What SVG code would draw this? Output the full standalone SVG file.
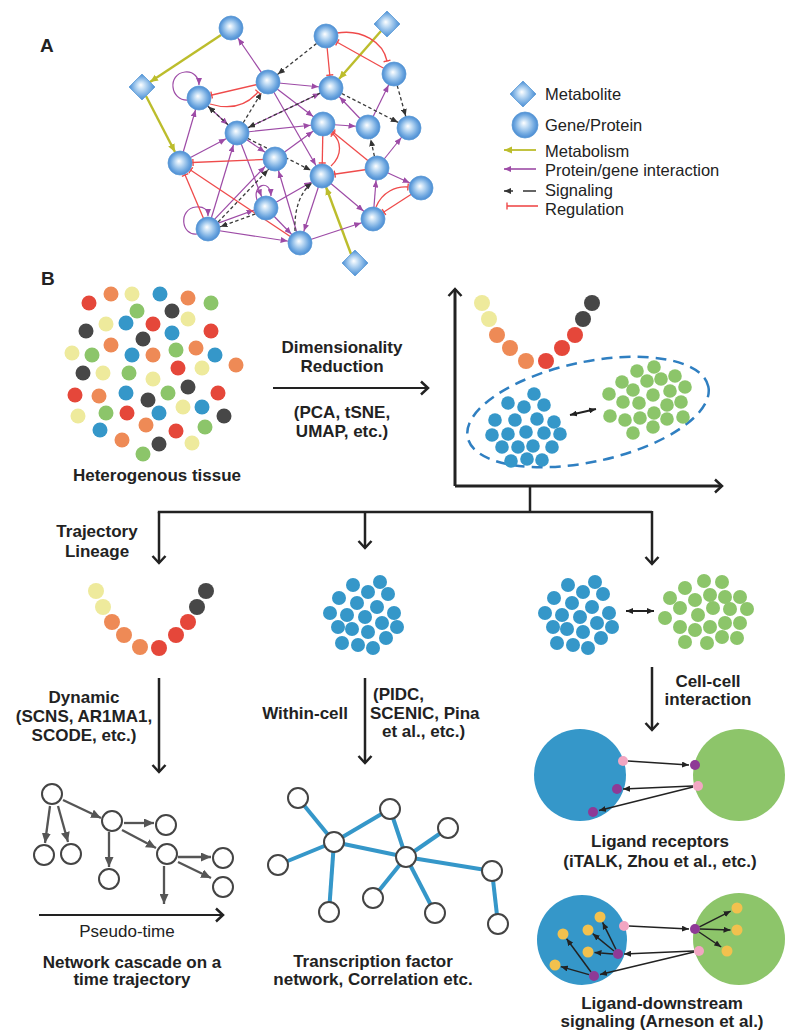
<svg xmlns="http://www.w3.org/2000/svg" width="800" height="1035" viewBox="0 0 800 1035">
<defs>
<style>
text{font-family:"Liberation Sans",Arial,sans-serif;fill:#222}
.bt{font-weight:bold;font-size:17px;text-anchor:middle}
.bs{font-weight:bold;font-size:17px}
.lg{font-size:16.5px}
.rt{font-size:17px;text-anchor:middle}
.pl{font-weight:bold;font-size:19px}
.ep{stroke:#9d4ba6;stroke-width:1.2;fill:none}
.er{stroke:#ef4b4b;stroke-width:1.3;fill:none}
.ek{stroke:#3a3a3a;stroke-width:1.3;stroke-dasharray:3.5 2.5;fill:none}
.ey{stroke:#bcbd2c;stroke-width:2.4;fill:none}
.nd{fill:url(#gb);stroke:#5c9ad6;stroke-width:0.8}
.r{fill:#e5473a}.o{fill:#ee8a56}.y{fill:#eeea9c}.b{fill:#3597c9}.k{fill:#474747}.g{fill:#8cc56a}
.ax{stroke:#222;stroke-width:3;fill:none}
.ar{stroke:#222;stroke-width:2.5;fill:none}
.bl{stroke:#555;stroke-width:2.3;fill:none}
.hc{fill:#fff;stroke:#444;stroke-width:2}
.te{stroke:#3597c9;stroke-width:4}
.ca{stroke:#222;stroke-width:1.5;fill:none}
</style>
<radialGradient id="gb" cx="0.5" cy="0.5" r="0.5" fx="0.45" fy="0.42">
<stop offset="0" stop-color="#ffffff"/>
<stop offset="0.3" stop-color="#c4def5"/>
<stop offset="0.75" stop-color="#6fa8e0"/>
<stop offset="1" stop-color="#4b8cd3"/>
</radialGradient>
<marker id="mP" viewBox="-7 -3 7 6" refX="12.5" refY="0" markerWidth="7" markerHeight="6" orient="auto" markerUnits="userSpaceOnUse"><path d="M-7,-3L0,0L-7,3z" fill="#9d4ba6"/></marker>
<marker id="mPe" viewBox="-7 -3 7 6" refX="0" refY="0" markerWidth="7" markerHeight="6" orient="auto" markerUnits="userSpaceOnUse"><path d="M-7,-3L0,0L-7,3z" fill="#9d4ba6"/></marker>
<marker id="mK" viewBox="-7 -3 7 6" refX="12.5" refY="0" markerWidth="7" markerHeight="6" orient="auto" markerUnits="userSpaceOnUse"><path d="M-7,-3L0,0L-7,3z" fill="#333"/></marker>
<marker id="mKe" viewBox="-7 -3 7 6" refX="0" refY="0" markerWidth="7" markerHeight="6" orient="auto" markerUnits="userSpaceOnUse"><path d="M-7,-3L0,0L-7,3z" fill="#333"/></marker>
<marker id="mR" viewBox="-1 -4 2 8" refX="13" refY="0" markerWidth="2" markerHeight="8" orient="auto" markerUnits="userSpaceOnUse"><path d="M0,-3.5V3.5" stroke="#ef4b4b" stroke-width="1.4"/></marker>
<marker id="mRe" viewBox="-1 -4 2 8" refX="0" refY="0" markerWidth="2" markerHeight="8" orient="auto" markerUnits="userSpaceOnUse"><path d="M0,-3.5V3.5" stroke="#ef4b4b" stroke-width="1.4"/></marker>
<marker id="mYe" viewBox="-8 -4 8 8" refX="0" refY="0" markerWidth="8" markerHeight="8" orient="auto" markerUnits="userSpaceOnUse"><path d="M-8,-3.5L0,0L-8,3.5z" fill="#bcbd2c"/></marker>
<marker id="cv" viewBox="-9 -8 11 16" refX="0" refY="0" markerWidth="11" markerHeight="16" orient="auto" markerUnits="userSpaceOnUse"><path d="M-7,-6.5L0,0L-7,6.5" fill="none" stroke="#222" stroke-width="2.5"/></marker>
<marker id="mT" viewBox="-10 -4.5 10 9" refX="0" refY="0" markerWidth="10" markerHeight="9" orient="auto" markerUnits="userSpaceOnUse"><path d="M-10,-4.5L0,0L-10,4.5z" fill="#555"/></marker>
<marker id="mA" viewBox="-7 -3 7 6" refX="0" refY="0" markerWidth="7" markerHeight="6" orient="auto-start-reverse" markerUnits="userSpaceOnUse"><path d="M-7,-3L0,0L-7,3z" fill="#222"/></marker>
<g id="blueCluster">
<circle cx="568" cy="585" r="7"/><circle cx="595" cy="582" r="7"/><circle cx="583" cy="592" r="7"/><circle cx="603" cy="594" r="7"/><circle cx="554" cy="598" r="7"/><circle cx="572" cy="603" r="7"/><circle cx="592" cy="607" r="7"/><circle cx="545" cy="613" r="7"/><circle cx="562" cy="615" r="7"/><circle cx="580" cy="617" r="7"/><circle cx="609" cy="613" r="7"/><circle cx="553" cy="627" r="7"/><circle cx="567" cy="629" r="7"/><circle cx="583" cy="632" r="7"/><circle cx="597" cy="623" r="7"/><circle cx="612" cy="627" r="7"/><circle cx="557" cy="643" r="7"/><circle cx="573" cy="645" r="7"/><circle cx="588" cy="648" r="7"/><circle cx="601" cy="638" r="7"/>
</g>
</defs>
<rect width="800" height="1035" fill="#fff"/>

<text class="pl" x="40" y="52">A</text>
<text class="pl" x="41" y="285">B</text>

<!-- Panel A connectors -->
<g id="connectors-A">
<g class="ey" marker-end="url(#mYe)">
<line x1="221" y1="35" x2="150" y2="82"/>
<line x1="146" y1="96" x2="175" y2="152"/>
<line x1="381" y1="31" x2="339" y2="79"/>
<line x1="351" y1="254" x2="326" y2="187"/>
</g>
<g class="ep" marker-end="url(#mP)">
<line x1="268" y1="82" x2="231" y2="28"/>
<line x1="268" y1="82" x2="331" y2="88"/>
<line x1="268" y1="82" x2="323" y2="124"/>
<line x1="268" y1="82" x2="322" y2="176"/>
<line x1="199" y1="98" x2="237" y2="133"/>
<line x1="180" y1="163" x2="199" y2="98"/>
<line x1="180" y1="163" x2="237" y2="133"/>
<line x1="237" y1="133" x2="331" y2="88"/>
<line x1="237" y1="133" x2="323" y2="124"/>
<line x1="237" y1="133" x2="275" y2="159"/>
<line x1="237" y1="133" x2="266" y2="208"/>
<line x1="208" y1="229" x2="237" y2="133"/>
<line x1="206.6" y1="227.6" x2="273.6" y2="157.6"/>
<line x1="207.3" y1="227.1" x2="265.3" y2="206.1"/>
<line x1="208" y1="229" x2="300" y2="243"/>
<line x1="266" y1="208" x2="300" y2="243"/>
<line x1="266" y1="208" x2="322" y2="176"/>
<line x1="300" y1="243" x2="275" y2="159"/>
<line x1="322" y1="176" x2="300" y2="243"/>
<line x1="275" y1="159" x2="323" y2="124"/>
<line x1="323" y1="124" x2="368" y2="127"/>
<line x1="368" y1="127" x2="331" y2="88"/>
<line x1="368" y1="127" x2="394" y2="74"/>
<line x1="377" y1="168" x2="409" y2="128"/>
<line x1="377" y1="168" x2="421" y2="188"/>
<line x1="373" y1="219" x2="377" y2="168"/>
<line x1="322" y1="176" x2="373" y2="219"/>
<line x1="300" y1="243" x2="373" y2="219"/>
</g>
<g class="ep" marker-end="url(#mPe)">
<path d="M188,100 C170,101 167,74 185,72 C194,71 199,78 199,85"/>
<path d="M197,234 C181,236 178,209 196,207 C204,206 208,210 208,216"/>
<path d="M257,200 C252,185 270,178 271,196"/>
</g>
<g class="ek" marker-end="url(#mK)">
<line x1="326" y1="36" x2="268" y2="82"/>
<line x1="331" y1="88" x2="237" y2="133"/>
<line x1="237" y1="133" x2="199" y2="98"/>
<line x1="237" y1="133" x2="268" y2="82"/>
<line x1="237" y1="133" x2="322" y2="176"/>
<line x1="209.8" y1="230.7" x2="276.8" y2="160.7"/>
<line x1="266.7" y1="209.9" x2="208.7" y2="230.9"/>
<line x1="394" y1="74" x2="409" y2="128"/>
<line x1="331" y1="88" x2="409" y2="128"/>
<line x1="377" y1="168" x2="368" y2="127"/>
</g>
<g class="ek" marker-end="url(#mKe)">
<path d="M295,231 C294,210 300,192 312,183"/>
</g>
<g class="er" marker-end="url(#mR)">
<line x1="268" y1="82" x2="199" y2="98"/>
<line x1="275" y1="159" x2="180" y2="163"/>
<line x1="300" y1="243" x2="180" y2="163"/>
<line x1="208" y1="229" x2="180" y2="163"/>
<line x1="326" y1="36" x2="331" y2="88"/>
<line x1="394" y1="74" x2="326" y2="36"/>
<line x1="323" y1="124" x2="322" y2="176"/>
<line x1="377" y1="168" x2="323" y2="124"/>
<line x1="377" y1="168" x2="322" y2="176"/>
<line x1="421" y1="188" x2="373" y2="219"/>
</g>
<g class="er" marker-end="url(#mRe)">
<path d="M210,104 Q240,113 258,92"/>
<path d="M337,33 C362,29 383,42 387,61"/>
<path d="M331,166 C343,155 341,141 333,134"/>
<path d="M376,207 C382,192 396,186 408,187"/>
</g>
</g>

<!-- Panel A nodes -->
<g id="nodes-A">
<g id="D1"><polygon class="nd" points="387,11 400,24 387,37 374,24"/></g>
<g id="D2"><polygon class="nd" points="142,74 155,87 142,100 129,87"/></g>
<g id="D3"><polygon class="nd" points="355,250 368,263 355,276 342,263"/></g>
<g id="N1"><circle class="nd" cx="231" cy="28" r="12"/></g>
<g id="N2"><circle class="nd" cx="326" cy="36" r="12"/></g>
<g id="N3"><circle class="nd" cx="394" cy="74" r="12"/></g>
<g id="N4"><circle class="nd" cx="199" cy="98" r="12"/></g>
<g id="N5"><circle class="nd" cx="268" cy="82" r="12"/></g>
<g id="N6"><circle class="nd" cx="331" cy="88" r="12"/></g>
<g id="N7"><circle class="nd" cx="237" cy="133" r="12"/></g>
<g id="N8"><circle class="nd" cx="323" cy="124" r="12"/></g>
<g id="N9"><circle class="nd" cx="368" cy="127" r="12"/></g>
<g id="N10"><circle class="nd" cx="409" cy="128" r="12"/></g>
<g id="N11"><circle class="nd" cx="180" cy="163" r="12"/></g>
<g id="N12"><circle class="nd" cx="275" cy="159" r="12"/></g>
<g id="N13"><circle class="nd" cx="322" cy="176" r="12"/></g>
<g id="N14"><circle class="nd" cx="377" cy="168" r="12"/></g>
<g id="N15"><circle class="nd" cx="421" cy="188" r="12"/></g>
<g id="N16"><circle class="nd" cx="266" cy="208" r="12"/></g>
<g id="N17"><circle class="nd" cx="208" cy="229" r="12"/></g>
<g id="N18"><circle class="nd" cx="300" cy="243" r="12"/></g>
<g id="N19"><circle class="nd" cx="373" cy="219" r="12"/></g>
</g>

<!-- Legend -->
<g id="legend">
<polygon class="nd" points="523,81 536,94 523,107 510,94"/>
<circle class="nd" cx="525" cy="125" r="13"/>
<line class="ey" x1="536" y1="150" x2="504" y2="150" marker-end="url(#mYe)" style="stroke-width:1.8"/>
<line class="ep" x1="536" y1="169" x2="504" y2="169" marker-end="url(#mPe)" style="stroke-width:1.6"/>
<path d="M536,191 H523 M513,191 H504" stroke="#333" stroke-width="1.6" fill="none" marker-end="url(#mKe)"/>
<line class="er" x1="538" y1="206" x2="507" y2="206" marker-end="url(#mRe)" style="stroke-width:1.6"/>
<text class="lg" x="545" y="100">Metabolite</text>
<text class="lg" x="545" y="131">Gene/Protein</text>
<text class="lg" x="545" y="157">Metabolism</text>
<text class="lg" x="545" y="176">Protein/gene interaction</text>
<text class="lg" x="545" y="196">Signaling</text>
<text class="lg" x="545" y="215">Regulation</text>
</g>

<!-- Panel B: heterogenous tissue -->
<g id="tissue">
<circle class="r" cx="89" cy="303" r="7.5"/><circle class="o" cx="111" cy="294" r="7.5"/><circle class="y" cx="132" cy="294" r="7.5"/><circle class="b" cx="160" cy="294" r="7.5"/><circle class="o" cx="188" cy="298" r="7.5"/><circle class="g" cx="211" cy="303" r="7.5"/>
<circle class="g" cx="137" cy="311" r="7.5"/><circle class="k" cx="172" cy="311" r="7.5"/><circle class="y" cx="188" cy="319" r="7.5"/><circle class="k" cx="86" cy="331" r="7.5"/><circle class="y" cx="106" cy="324" r="7.5"/><circle class="b" cx="126" cy="323" r="7.5"/><circle class="r" cx="153" cy="324" r="7.5"/><circle class="b" cx="172" cy="333" r="7.5"/><circle class="r" cx="211" cy="331" r="7.5"/>
<circle class="k" cx="143" cy="339" r="7.5"/><circle class="o" cx="111" cy="345" r="7.5"/><circle class="y" cx="72" cy="353" r="7.5"/><circle class="g" cx="92" cy="355" r="7.5"/><circle class="b" cx="132" cy="355" r="7.5"/><circle class="o" cx="153" cy="355" r="7.5"/><circle class="g" cx="176" cy="350" r="7.5"/><circle class="o" cx="196" cy="348" r="7.5"/><circle class="b" cx="215" cy="355" r="7.5"/><circle class="o" cx="236" cy="365" r="7.5"/>
<circle class="k" cx="83" cy="373" r="7.5"/><circle class="y" cx="103" cy="373" r="7.5"/><circle class="g" cx="129" cy="373" r="7.5"/><circle class="r" cx="178" cy="368" r="7.5"/><circle class="y" cx="202" cy="368" r="7.5"/><circle class="y" cx="153" cy="379" r="7.5"/>
<circle class="r" cx="75" cy="395" r="7.5"/><circle class="o" cx="99" cy="396" r="7.5"/><circle class="b" cx="126" cy="393" r="7.5"/><circle class="k" cx="148" cy="400" r="7.5"/><circle class="g" cx="168" cy="393" r="7.5"/><circle class="k" cx="188" cy="387" r="7.5"/><circle class="r" cx="218" cy="393" r="7.5"/>
<circle class="y" cx="78" cy="416" r="7.5"/><circle class="g" cx="106" cy="413" r="7.5"/><circle class="r" cx="127" cy="413" r="7.5"/><circle class="b" cx="159" cy="413" r="7.5"/><circle class="y" cx="183" cy="407" r="7.5"/><circle class="b" cx="202" cy="407" r="7.5"/><circle class="k" cx="224" cy="416" r="7.5"/>
<circle class="b" cx="100" cy="430" r="7.5"/><circle class="o" cx="146" cy="425" r="7.5"/><circle class="r" cx="176" cy="431" r="7.5"/><circle class="g" cx="205" cy="427" r="7.5"/><circle class="o" cx="122" cy="440" r="7.5"/><circle class="k" cx="159" cy="444" r="7.5"/><circle class="y" cx="192" cy="443" r="7.5"/><circle class="g" cx="143" cy="454" r="7.5"/>
<text class="bt" x="157" y="481">Heterogenous tissue</text>
</g>

<g id="dimred">
<line class="ar" x1="273" y1="388" x2="428" y2="388" style="stroke-width:2.2" marker-end="url(#cv)"/>
<text class="bt" x="342" y="353">Dimensionality</text>
<text class="bt" x="342" y="372">Reduction</text>
<text class="bt" x="342" y="418">(PCA, tSNE,</text>
<text class="bt" x="342" y="437">UMAP, etc.)</text>
</g>

<!-- Plot -->
<g id="plot">
<line class="ax" x1="455" y1="486" x2="455" y2="289" marker-end="url(#cv)"/>
<line class="ax" x1="455" y1="486" x2="722" y2="486" marker-end="url(#cv)"/>
<circle class="y" cx="482" cy="303" r="8"/><circle class="y" cx="489" cy="319" r="8"/><circle class="o" cx="497" cy="335" r="8"/><circle class="o" cx="510" cy="348" r="8"/><circle class="o" cx="526" cy="361" r="8"/><circle class="r" cx="546" cy="361" r="8"/><circle class="r" cx="562" cy="348" r="8"/><circle class="r" cx="575" cy="335" r="8"/><circle class="k" cx="583" cy="319" r="8"/><circle class="k" cx="592" cy="303" r="8"/>
<ellipse cx="588" cy="412" rx="123" ry="50" transform="rotate(-12 588 412)" fill="none" stroke="#2f7fc1" stroke-width="2.5" stroke-dasharray="11 7"/>
<g class="b">
<circle cx="534" cy="394" r="6.8"/><circle cx="508" cy="403" r="6.8"/><circle cx="524" cy="407" r="6.8"/><circle cx="544" cy="405" r="6.8"/><circle cx="495" cy="420" r="6.8"/><circle cx="515" cy="420" r="6.8"/><circle cx="537" cy="419" r="6.8"/><circle cx="554" cy="422" r="6.8"/><circle cx="492" cy="435" r="6.8"/><circle cx="508" cy="434" r="6.8"/><circle cx="526" cy="432" r="6.8"/><circle cx="544" cy="433" r="6.8"/><circle cx="560" cy="434" r="6.8"/><circle cx="502" cy="447" r="6.8"/><circle cx="518" cy="447" r="6.8"/><circle cx="533" cy="446" r="6.8"/><circle cx="552" cy="447" r="6.8"/><circle cx="511" cy="461" r="6.8"/><circle cx="527" cy="459" r="6.8"/><circle cx="542" cy="460" r="6.8"/>
</g>
<g class="g">
<circle cx="637" cy="371" r="6.8"/><circle cx="654" cy="367" r="6.8"/><circle cx="675" cy="376" r="6.8"/><circle cx="622" cy="382" r="6.8"/><circle cx="647" cy="381" r="6.8"/><circle cx="661" cy="379" r="6.8"/><circle cx="685" cy="387" r="6.8"/><circle cx="609" cy="394" r="6.8"/><circle cx="633" cy="390" r="6.8"/><circle cx="653" cy="395" r="6.8"/><circle cx="670" cy="391" r="6.8"/><circle cx="623" cy="402" r="6.8"/><circle cx="639" cy="403" r="6.8"/><circle cx="667" cy="405" r="6.8"/><circle cx="681" cy="402" r="6.8"/><circle cx="610" cy="416" r="6.8"/><circle cx="625" cy="420" r="6.8"/><circle cx="640" cy="418" r="6.8"/><circle cx="654" cy="413" r="6.8"/><circle cx="667" cy="419" r="6.8"/><circle cx="683" cy="417" r="6.8"/><circle cx="633" cy="433" r="6.8"/><circle cx="653" cy="427" r="6.8"/>
</g>
<line class="ca" x1="570" y1="415" x2="596" y2="409" style="stroke-width:2" marker-start="url(#mA)" marker-end="url(#mA)"/>
</g>

<!-- Branch connectors -->
<g id="connectors-B">
<path class="ar" d="M530,486 V512 M157.8,512 H652"/>
<line class="ar" x1="159" y1="512" x2="159" y2="563" marker-end="url(#cv)"/>
<line class="ar" x1="365" y1="512" x2="365" y2="548" marker-end="url(#cv)"/>
<line class="ar" x1="652" y1="511" x2="652" y2="564" marker-end="url(#cv)"/>
<line class="ar" x1="159" y1="678" x2="159" y2="772" marker-end="url(#cv)"/>
<line class="ar" x1="365" y1="678" x2="365" y2="763" marker-end="url(#cv)"/>
<line class="ar" x1="652" y1="667" x2="652" y2="730" marker-end="url(#cv)"/>
</g>

<g id="trajectory-label">
<text class="bt" x="97" y="537">Trajectory</text>
<text class="bt" x="97" y="557">Lineage</text>
</g>

<g id="trajectory">
<circle class="y" cx="96" cy="591" r="8"/><circle class="y" cx="103" cy="607" r="8"/><circle class="o" cx="112" cy="622" r="8"/><circle class="o" cx="124" cy="635" r="8"/><circle class="o" cx="140" cy="647" r="8"/><circle class="r" cx="159" cy="648" r="8"/><circle class="r" cx="176" cy="635" r="8"/><circle class="r" cx="188" cy="622" r="8"/><circle class="k" cx="197" cy="607" r="8"/><circle class="k" cx="206" cy="591" r="8"/>
</g>

<g id="middle-cluster" class="b"><use href="#blueCluster" x="-215" y="0"/></g>

<g id="pair-cluster">
<g class="b"><use href="#blueCluster"/></g>
<g class="g">
<circle cx="685" cy="588" r="7"/><circle cx="704" cy="581" r="7"/><circle cx="722" cy="582" r="7"/><circle cx="670" cy="598" r="7"/><circle cx="695" cy="600" r="7"/><circle cx="710" cy="595" r="7"/><circle cx="725" cy="597" r="7"/><circle cx="740" cy="597" r="7"/><circle cx="680" cy="608" r="7"/><circle cx="698" cy="615" r="7"/><circle cx="713" cy="608" r="7"/><circle cx="730" cy="609" r="7"/><circle cx="747" cy="609" r="7"/><circle cx="665" cy="618" r="7"/><circle cx="680" cy="627" r="7"/><circle cx="695" cy="630" r="7"/><circle cx="710" cy="627" r="7"/><circle cx="725" cy="623" r="7"/><circle cx="740" cy="623" r="7"/><circle cx="685" cy="642" r="7"/><circle cx="707" cy="643" r="7"/><circle cx="722" cy="637" r="7"/><circle cx="737" cy="638" r="7"/>
</g>
<line class="ca" x1="626" y1="611" x2="654" y2="611" style="stroke-width:2" marker-start="url(#mA)" marker-end="url(#mA)"/>
</g>

<g id="labels-row2">
<text class="bt" x="84" y="703">Dynamic</text>
<text class="bt" x="84" y="722">(SCNS, AR1MA1,</text>
<text class="bt" x="84" y="741">SCODE, etc.)</text>
<text class="bs" x="348" y="719" text-anchor="end">Within-cell</text>
<text class="bs" x="373" y="700">(PIDC,</text>
<text class="bs" x="370" y="719">SCENIC, Pina</text>
<text class="bs" x="382" y="737">et al., etc.)</text>
<text class="bt" x="708" y="687">Cell-cell</text>
<text class="bt" x="708" y="705">interaction</text>
</g>

<!-- Network cascade -->
<g id="cascade">
<g class="bl" marker-end="url(#mT)">
<line x1="50" y1="806" x2="45" y2="843"/>
<line x1="58" y1="806" x2="68" y2="842"/>
<line x1="63" y1="800" x2="101" y2="818"/>
<line x1="109" y1="832" x2="109" y2="867"/>
<line x1="124" y1="823" x2="154" y2="823"/>
<line x1="122" y1="830" x2="156" y2="848"/>
<line x1="178" y1="857" x2="211" y2="857"/>
<line x1="178" y1="862" x2="211" y2="878"/>
<line x1="164" y1="866" x2="164" y2="904"/>
</g>
<g id="casc-nodes">
<circle class="hc" cx="52" cy="794" r="10"/><circle class="hc" cx="44" cy="855" r="10"/><circle class="hc" cx="71" cy="854" r="10"/><circle class="hc" cx="112" cy="821" r="10"/><circle class="hc" cx="109" cy="879" r="10"/><circle class="hc" cx="166" cy="825" r="10"/><circle class="hc" cx="167" cy="854" r="10"/><circle class="hc" cx="223" cy="858" r="10"/><circle class="hc" cx="223" cy="887" r="10"/>
</g>
<line class="ar" x1="39" y1="915" x2="223" y2="915" style="stroke-width:2.2" marker-end="url(#cv)"/>
<text class="rt" x="127" y="937">Pseudo-time</text>
<text class="bt" x="132" y="968">Network cascade on a</text>
<text class="bt" x="132" y="985">time trajectory</text>
</g>

<!-- Transcription factor network -->
<g id="tf-network">
<g class="te">
<line x1="298" y1="798" x2="334" y2="842"/>
<line x1="334" y1="842" x2="390" y2="809"/>
<line x1="334" y1="842" x2="278" y2="865"/>
<line x1="334" y1="842" x2="329" y2="912"/>
<line x1="334" y1="842" x2="406" y2="857"/>
<line x1="390" y1="809" x2="406" y2="857"/>
<line x1="448" y1="828" x2="406" y2="857"/>
<line x1="406" y1="857" x2="492" y2="871"/>
<line x1="406" y1="857" x2="373" y2="898"/>
<line x1="406" y1="857" x2="435" y2="913"/>
<line x1="492" y1="871" x2="498" y2="924"/>
</g>
<circle class="hc" cx="298" cy="798" r="10"/><circle class="hc" cx="390" cy="809" r="10"/><circle class="hc" cx="448" cy="828" r="10"/><circle class="hc" cx="334" cy="842" r="10"/><circle class="hc" cx="278" cy="865" r="10"/><circle class="hc" cx="406" cy="857" r="10"/><circle class="hc" cx="492" cy="871" r="10"/><circle class="hc" cx="373" cy="898" r="10"/><circle class="hc" cx="329" cy="912" r="10"/><circle class="hc" cx="435" cy="913" r="10"/><circle class="hc" cx="498" cy="924" r="10"/>
<text class="bt" x="373" y="967">Transcription factor</text>
<text class="bt" x="373" y="985">network, Correlation etc.</text>
</g>

<!-- Ligand receptors -->
<g id="ligand-receptors">
<circle cx="580" cy="775" r="46" fill="#3597c9"/>
<circle cx="739" cy="775" r="46" fill="#8dc56a"/>
<g class="ca" marker-end="url(#mA)">
<line x1="628" y1="761" x2="689" y2="765"/>
<line x1="693" y1="786" x2="623" y2="789"/>
<line x1="693" y1="787" x2="599" y2="810.6"/>
</g>
<circle cx="623" cy="761" r="5" fill="#f2a6c2"/>
<circle cx="698" cy="786" r="5" fill="#f2a6c2"/>
<circle cx="695" cy="765" r="5" fill="#8e3a96"/>
<circle cx="617" cy="789" r="5" fill="#8e3a96"/>
<circle cx="593" cy="812" r="5" fill="#8e3a96"/>
<text class="bt" x="660" y="847">Ligand receptors</text>
<text class="bt" x="660" y="867">(iTALK, Zhou et al., etc.)</text>
</g>

<!-- Ligand downstream -->
<g id="ligand-downstream">
<circle cx="582" cy="940" r="45" fill="#3597c9"/>
<circle cx="739" cy="939" r="46" fill="#8dc56a"/>
<g fill="#f2c14e">
<circle cx="600" cy="917" r="5.5"/><circle cx="588" cy="930" r="5.5"/><circle cx="563" cy="934" r="5.5"/><circle cx="588" cy="952" r="5.5"/><circle cx="555" cy="965" r="5.5"/>
<circle cx="737" cy="908" r="5.5"/><circle cx="737" cy="930" r="5.5"/><circle cx="727" cy="951" r="5.5"/>
</g>
<g class="ca" marker-end="url(#mA)">
<line x1="629" y1="926" x2="689" y2="929"/>
<line x1="694" y1="951" x2="624" y2="954"/>
<line x1="694" y1="952" x2="600" y2="974.6"/>
<line x1="699.5" y1="926.8" x2="730.7" y2="911.1"/>
<line x1="700" y1="929" x2="730.5" y2="929.9"/>
<line x1="699" y1="932" x2="721.2" y2="947"/>
<line x1="616" y1="949.5" x2="602.6" y2="922.4"/>
<line x1="614" y1="951" x2="592.7" y2="933.7"/>
<line x1="613" y1="954" x2="594.5" y2="952.4"/>
<line x1="591" y1="972" x2="566.6" y2="938.8"/>
<line x1="589" y1="974.6" x2="560.8" y2="966.6"/>
</g>
<circle cx="624" cy="926" r="5" fill="#f2a6c2"/>
<circle cx="699" cy="951" r="5" fill="#f2a6c2"/>
<circle cx="695" cy="929" r="5" fill="#8e3a96"/>
<circle cx="618" cy="954" r="5" fill="#8e3a96"/>
<circle cx="594" cy="976" r="5" fill="#8e3a96"/>
<text class="bt" x="662" y="1009">Ligand-downstream</text>
<text class="bt" x="662" y="1027">signaling (Arneson et al.)</text>
</g>
</svg>
